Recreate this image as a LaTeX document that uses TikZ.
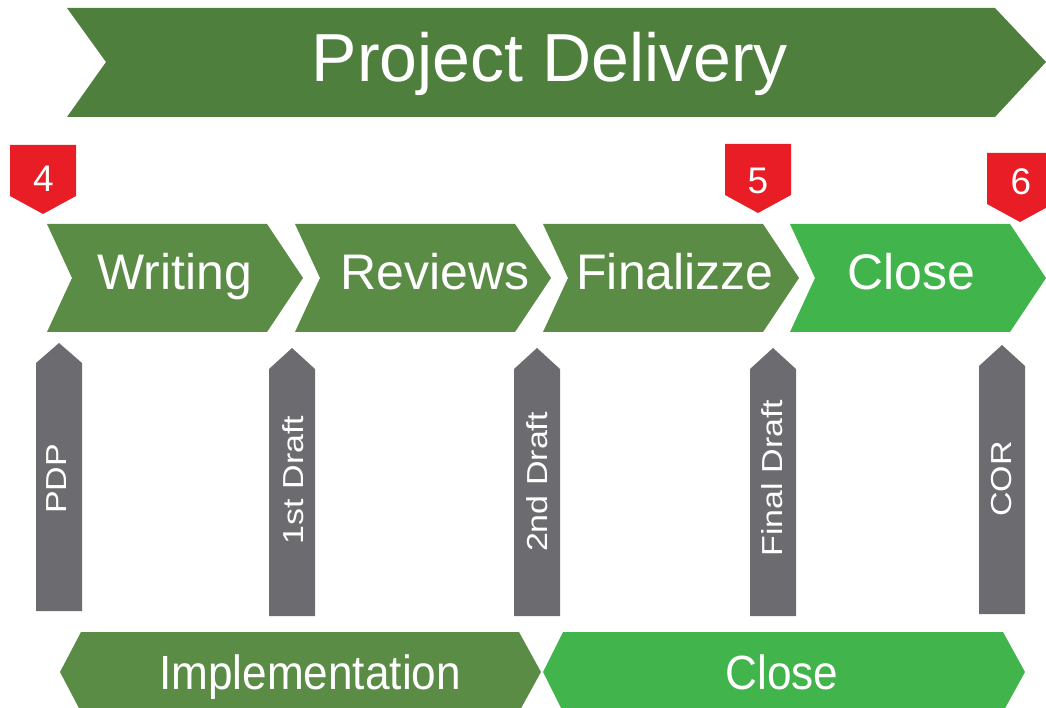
\documentclass[tikz,border=0pt]{standalone}
\usepackage{fontspec}
\setmainfont{Liberation Sans}
\definecolor{bannergreen}{HTML}{4E7F3C}
\definecolor{stepgreen}{HTML}{5B8C46}
\definecolor{brightgreen}{HTML}{41B44B}
\definecolor{pillar}{HTML}{6C6C70}
\definecolor{marker}{HTML}{E81D25}
\tikzset{
  bannerbox/.style={fill=bannergreen},
  stepbox/.style={fill=stepgreen},
  closebox/.style={fill=brightgreen},
  pillarbox/.style={fill=pillar},
  markerbox/.style={fill=marker},
  wtext/.style={text=white, inner sep=0pt, outer sep=0pt},
  steplabel/.style={wtext, anchor=base, font=\fontsize{50}{60}\selectfont},
  phaselabel/.style={wtext, anchor=base, font=\fontsize{48}{58}\selectfont},
  pillarlabel/.style={wtext, anchor=center, rotate=90, text depth=0pt, font=\fontsize{34}{40}\selectfont},
  digitlabel/.style={wtext, anchor=base, font=\fontsize{37}{44}\selectfont},
}
\newcommand\chevronat[2]{%
  \fill[#2] (#1,224) -- ++(220,0) -- ++(36,54) -- ++(-36,54) -- ++(-220,0) -- ++(25,-54) -- cycle;}
\newcommand\pillarat[4]{% left x, tip y, shoulder y, bottom y
  \fill[pillarbox] (#1,#4) -- (#1,#3) -- ({#1+23},#2) -- ({#1+46},#3) -- ({#1+46},#4) -- cycle;}
\newcommand\markerat[3]{% left x, top y
  \fill[markerbox] (#1,#2) -- ++(66,0) -- ++(0,51) -- ++(-33,18) -- ++(-33,-18) -- cycle;}
\begin{document}
\begin{tikzpicture}[x=1pt,y=-1pt]
\useasboundingbox (0,0) rectangle (1046,708);
\clip (0,0) rectangle (1046,708);

% banner
\fill[bannergreen] (67,8) -- (995,8) -- (1046,62) -- (995,117) -- (67,117) -- (106,62) -- cycle;
\node[wtext, anchor=base, font=\fontsize{68}{80}\selectfont] (banner) at (550,82) {Project Delivery};

% markers
\markerat{10}{145}{}
\markerat{725}{144}{}
\markerat{987}{153}{}
\node[digitlabel] (m4) at (43.5,192) {4};
\node[digitlabel] (m5) at (758,194) {5};
\node[digitlabel] (m6) at (1021,195) {6};

% chevrons
\chevronat{47}{stepbox}
\chevronat{295}{stepbox}
\chevronat{543}{stepbox}
\chevronat{790}{closebox}
\node[steplabel] (writing) at (175,290) {Writing};
\node[steplabel] (reviews) at (435,290) {Reviews};
\node[steplabel] (finalizze) at (675,290) {Finalizze};
\node[steplabel] (close) at (911,290) {Close};

% pillars
\pillarat{36}{343}{363}{611}
\pillarat{269}{348}{369}{616}
\pillarat{514}{348}{369}{616}
\pillarat{750}{348}{369}{616}
\pillarat{979}{345}{366}{614}
\node[pillarlabel] (pdp) at (57,479) {\scalebox{1}[0.85]{PDP}};
\node[pillarlabel] (d1) at (293,480) {\scalebox{1}[0.85]{1st Draft}};
\node[pillarlabel] (d2) at (537,482) {\scalebox{1}[0.85]{2nd Draft}};
\node[pillarlabel] (df) at (772,478) {\scalebox{1}[0.85]{Final Draft}};
\node[pillarlabel] (cor) at (1001,479) {\scalebox{1}[0.85]{COR}};

% phases
\fill[stepbox] (60,672) -- (81,632) -- (519,632) -- (541,672) -- (519,712) -- (81,712) -- cycle;
\fill[closebox] (543,672) -- (563,632) -- (1003,632) -- (1025,672) -- (1003,712) -- (563,712) -- cycle;
\node[phaselabel] (impl) at (310,689) {\scalebox{0.92}[1]{Implementation}};
\node[phaselabel] (closephase) at (782,689) {\scalebox{0.92}[1]{Close}};
\end{tikzpicture}
\end{document}
